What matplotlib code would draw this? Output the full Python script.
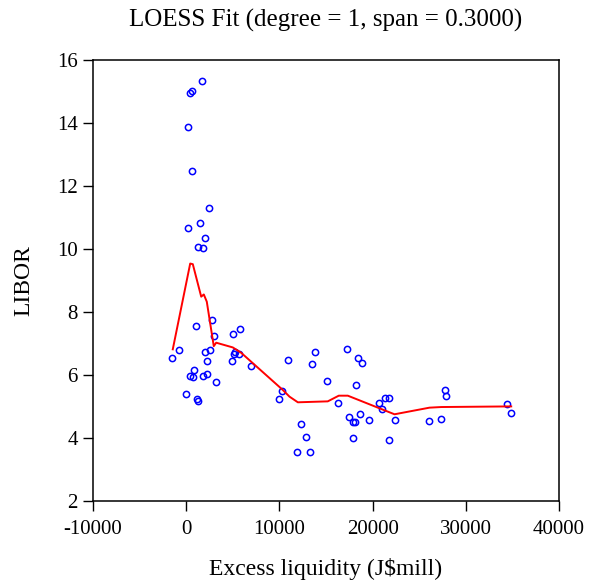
import matplotlib
matplotlib.use("Agg")
import matplotlib.pyplot as plt

# Observations: excess liquidity (J$mill) vs LIBOR
liquidity = [
    1675, 600, 430, 215, 640, 2500, 1535, 170, 2000, 1245, 1780,
    2820, 1105, 4970, 5790, 2930, -720, -1500, 2070, 2530, 5290, 5150,
    5640, 2250, 4890, 6970, 890, 390, 780, 1820, 2180, 3250, 0, 1180, 1250,
    13840, 10900, 13520, 17230, 18410, 18880, 15160, 18240, 10330, 9940,
    16310, 21280, 21710, 20710, 21060, 17520, 18600, 17920, 18060, 19560,
    22350, 12300, 12830, 17880, 21710, 11940, 13230,
    27750, 27900, 34400, 34800, 26070, 27290,
]
libor = [
    15.31, 15.00, 14.94, 13.86, 12.46, 11.29, 10.82, 10.66, 10.33, 10.05, 10.03,
    7.73, 7.56, 7.31, 7.47, 7.23, 6.80, 6.55, 6.71, 6.80, 6.73, 6.65,
    6.65, 6.43, 6.43, 6.29, 6.14, 5.97, 5.93, 5.95, 6.03, 5.77, 5.38, 5.22, 5.18,
    6.71, 6.47, 6.35, 6.81, 6.54, 6.37, 5.81, 5.69, 5.50, 5.24,
    5.12, 5.27, 5.27, 5.11, 4.93, 4.66, 4.75, 4.50, 4.50, 4.58,
    4.56, 4.43, 4.03, 4.00, 3.94, 3.55, 3.56,
    5.53, 5.32, 5.07, 4.78, 4.54, 4.61,
]

# LOESS fitted curve
fit_x = [-1440, 430, 710, 1610, 1890, 2210, 2960, 3220, 5000, 5900,
         10370, 11080, 11980, 15190, 16370, 17340, 22350, 26100, 27360, 34870]
fit_y = [6.81, 9.53, 9.51, 8.48, 8.55, 8.32, 6.91, 7.02, 6.87, 6.70,
         5.52, 5.31, 5.13, 5.16, 5.34, 5.34, 4.75, 4.96, 4.98, 5.00]

plt.rcParams["font.family"] = ["Liberation Serif", "DejaVu Serif"]
plt.rcParams["axes.unicode_minus"] = False

fig = plt.figure(figsize=(5.9, 5.87), dpi=100)
ax = fig.add_axes([0.1576, 0.1465, 0.7899, 0.7521])

ax.plot(liquidity, libor, "o", ms=4.5, mfc="none", mec="#0000ff", mew=1.1)
ax.plot(fit_x, fit_y, color="#ff0000", lw=1.4)

ax.set_xlim(-10000, 40000)
ax.set_ylim(2, 16)
ax.set_xticks([-10000, 0, 10000, 20000, 30000, 40000])
ax.set_yticks([2, 4, 6, 8, 10, 12, 14, 16])
ax.tick_params(direction="out", length=7.5, width=1, labelsize=15)
ax.tick_params(axis="x", pad=6.5)
ax.tick_params(axis="y", pad=3.5)
for s in ax.spines.values():
    s.set_linewidth(1.1)

ax.set_xlabel(r"Excess liquidity (J\$mill)", fontsize=17, labelpad=13)
ax.set_ylabel("LIBOR", fontsize=17, labelpad=16)
ax.set_title("LOESS Fit (degree = 1, span = 0.3000)", fontsize=18, pad=24)

fig.savefig("out.png", dpi=100)
